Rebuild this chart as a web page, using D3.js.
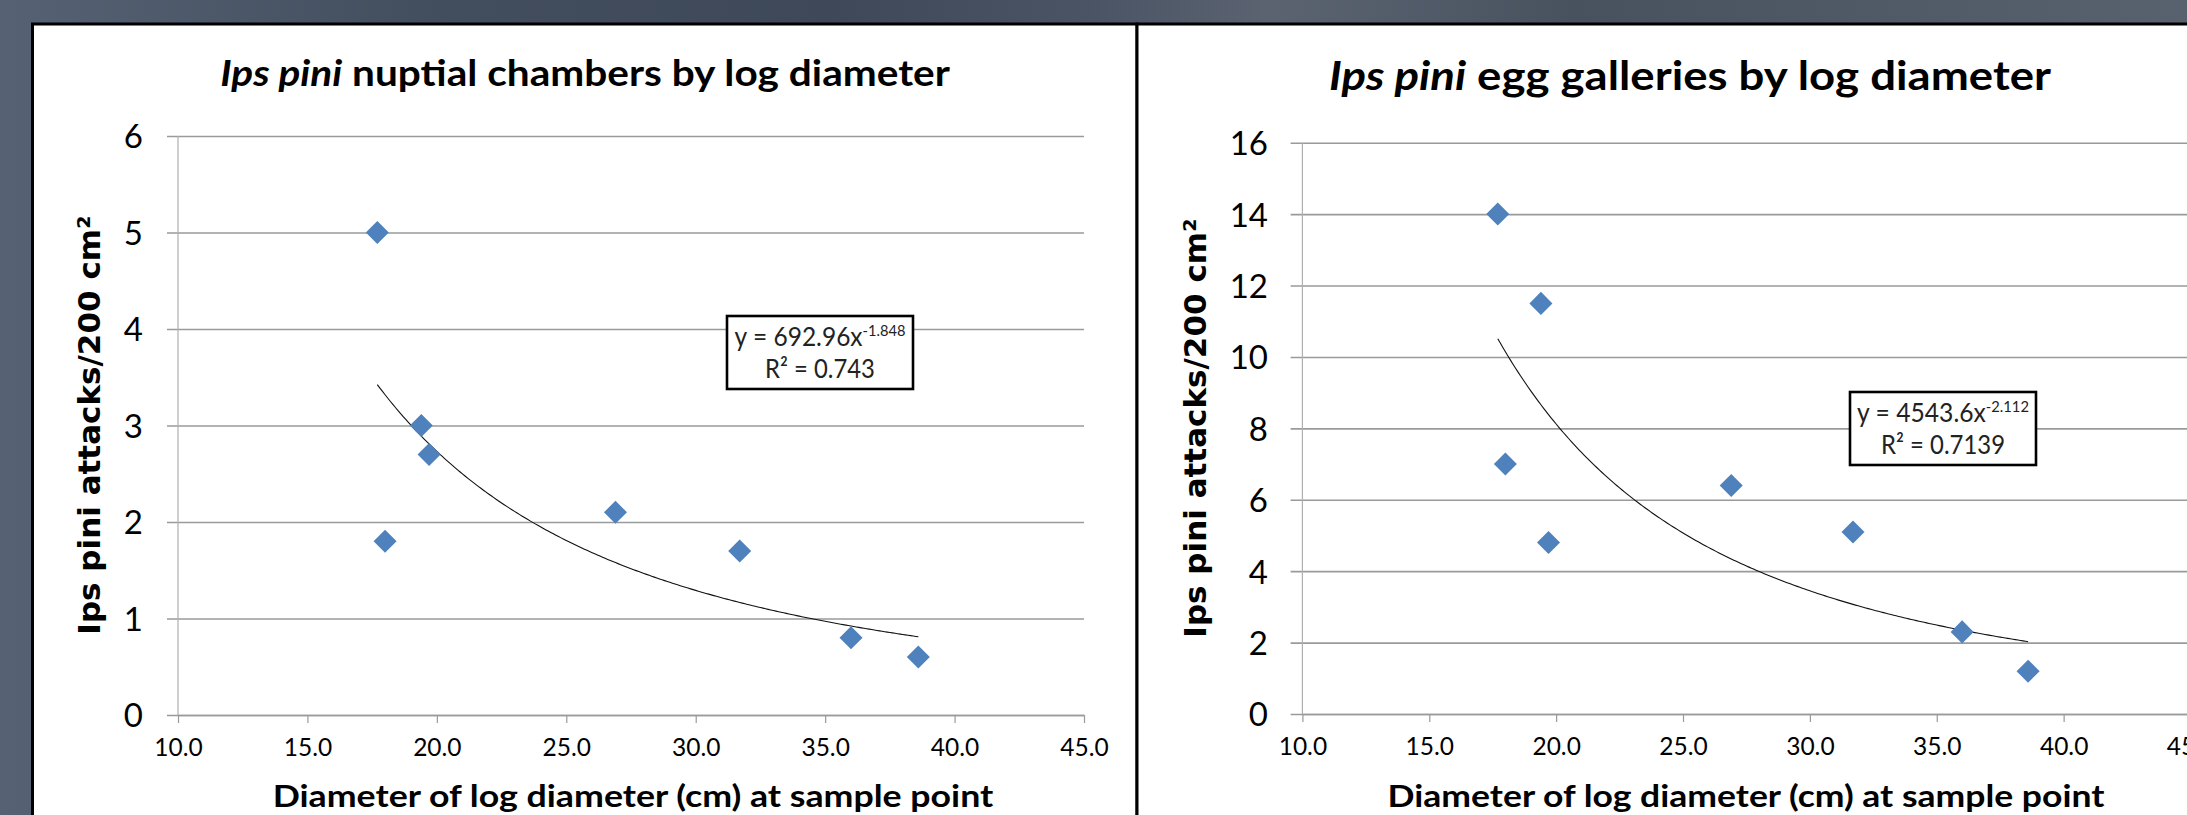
<!DOCTYPE html>
<html>
<head>
<meta charset="utf-8">
<script src="https://cdn.jsdelivr.net/npm/d3@7"></script>
<style>
  body { margin: 0; background: #4a5566; }
  svg { display: block; }
  .tick text { fill: #000; }
</style>
</head>
<body>
<div id="chart"></div>
<script>
// log diameter (cm) at each sample point, shared by both charts
var diameter = [17.7, 18.0, 19.4, 19.7, 26.9, 31.7, 36.0, 38.6];
// Ips pini attacks / 200 cm2
var nuptialChambers = [5.0, 1.8, 3.0, 2.7, 2.1, 1.7, 0.8, 0.6];
var eggGalleries = [14.0, 7.0, 11.5, 4.8, 6.4, 5.1, 2.3, 1.2];

// power trendlines  y = a * x^b
var nuptialFit = { a: 692.96, b: -1.848, eq: "692.96x", exp: "-1.848", r2: "0.743" };
var eggFit = { a: 4543.6, b: -2.112, eq: "4543.6x", exp: "-2.112", r2: "0.7139" };

var xTicks = [10, 15, 20, 25, 30, 35, 40, 45];
var nuptialTicks = [0, 1, 2, 3, 4, 5, 6];
var eggTicks = [0, 2, 4, 6, 8, 10, 12, 14, 16];

var W = 2187, H = 815;
var blue = "#4f81bd";

var svg = d3.select("#chart").append("svg")
    .attr("width", W)
    .attr("height", H);

// slide background
var defs = svg.append("defs");
var grad = defs.append("linearGradient").attr("id", "bg")
    .attr("x1", 0).attr("x2", 1).attr("y1", 0).attr("y2", 0);
[[0, "#566273"], [0.2, "#424d5e"], [0.38, "#3e4858"], [0.5, "#4b5465"],
 [0.58, "#5b6371"], [0.72, "#48525f"], [1, "#58626f"]].forEach(function(s) {
  grad.append("stop").attr("offset", s[0]).attr("stop-color", s[1]);
});
svg.append("rect").attr("width", W).attr("height", H).attr("fill", "url(#bg)");

// the two white panels
svg.append("rect")
    .attr("x", 32.5).attr("y", 24)
    .attr("width", 1104.5).attr("height", 900)
    .attr("fill", "#fff").attr("stroke", "#000").attr("stroke-width", 3);
svg.append("rect")
    .attr("x", 1137).attr("y", 24)
    .attr("width", 1200).attr("height", 900)
    .attr("fill", "#fff").attr("stroke", "#000").attr("stroke-width", 3);

// squeeze / stretch text horizontally so it covers the given width
function fitWidth(t, cx, y, target) {
  var w = t.node().getComputedTextLength();
  t.attr("transform", "translate(" + cx + "," + y + ") scale(" + (target / w) + ",1)");
}

function drawChart(opt) {
  var x = d3.scaleLinear().domain([10, 45]).range(opt.xRange);
  var y = d3.scaleLinear().domain([0, opt.yMax]).range(opt.yRange);
  var g = svg.append("g");

  // horizontal gridlines + y labels
  var yAxis = d3.axisLeft(y)
      .tickValues(opt.yTicks)
      .tickFormat(d3.format("d"))
      .tickSizeInner(-(opt.xRange[1] - opt.gridLeft))
      .tickSizeOuter(0)
      .tickPadding(opt.gridLeft - opt.yLabelRight);
  var ya = g.append("g")
      .attr("transform", "translate(" + opt.gridLeft + ",0)")
      .call(yAxis);
  ya.select(".domain").remove();
  ya.selectAll(".tick line").attr("stroke", "#9a9a9a").attr("stroke-width", 1.6);
  ya.selectAll(".tick text")
      .attr("font-family", "Lato, 'Open Sans', sans-serif")
      .attr("font-size", 33)
      .attr("dy", "0.36em");

  // vertical axis line
  g.append("line")
      .attr("x1", opt.xRange[0]).attr("x2", opt.xRange[0])
      .attr("y1", opt.yRange[1]).attr("y2", opt.yRange[0])
      .attr("stroke", "#b0b0b0").attr("stroke-width", 1.2);

  // x axis
  var xAxis = d3.axisBottom(x)
      .tickValues(xTicks)
      .tickFormat(d3.format(".1f"))
      .tickSizeInner(8)
      .tickSizeOuter(0)
      .tickPadding(16);
  var xa = g.append("g")
      .attr("transform", "translate(0," + opt.yRange[0] + ")")
      .call(xAxis);
  xa.select(".domain").attr("stroke", "#9a9a9a").attr("stroke-width", 1.6);
  xa.selectAll(".tick line").attr("stroke", "#9a9a9a").attr("stroke-width", 1.2);
  xa.selectAll(".tick text")
      .attr("font-family", "Lato, 'Open Sans', sans-serif")
      .attr("font-size", 24.5);

  // trendline
  var xs = d3.range(d3.min(diameter), d3.max(diameter) + 0.01, 0.1);
  var line = d3.line()
      .x(function(d) { return x(d); })
      .y(function(d) { return y(opt.fit.a * Math.pow(d, opt.fit.b)); });
  g.append("path")
      .datum(xs)
      .attr("d", line)
      .attr("fill", "none")
      .attr("stroke", "#111")
      .attr("stroke-width", 1.1);

  // diamonds
  var sym = d3.symbol().type(d3.symbolSquare).size(265);
  g.selectAll("path.pt")
      .data(diameter.map(function(d, i) { return [d, opt.values[i]]; }))
      .enter().append("path")
      .attr("class", "pt")
      .attr("d", sym)
      .attr("fill", blue)
      .attr("transform", function(d) {
        return "translate(" + x(d[0]) + "," + y(d[1]) + ") rotate(45)";
      });

  // equation box
  var bx = opt.box;
  var eb = g.append("g").attr("transform", "translate(" + bx[0] + "," + bx[1] + ")");
  eb.append("rect")
      .attr("width", 186).attr("height", 73)
      .attr("fill", "#fff").attr("stroke", "#000").attr("stroke-width", 2.6);
  var t1 = eb.append("text")
      .attr("text-anchor", "middle")
      .attr("font-family", "Lato, 'Open Sans', sans-serif")
      .attr("font-size", 26)
      .attr("fill", "#222");
  t1.append("tspan").text("y = " + opt.fit.eq);
  t1.append("tspan").attr("dy", -10).attr("font-size", 15.5).text(opt.fit.exp);
  fitWidth(t1, 93, 30, opt.eqW);
  var t2 = eb.append("text")
      .attr("text-anchor", "middle")
      .attr("font-family", "Lato, 'Open Sans', sans-serif")
      .attr("font-size", 26)
      .attr("fill", "#222")
      .text("R\u00b2 = " + opt.fit.r2);
  fitWidth(t2, 93, 62, opt.r2W);

  // chart title
  var tt = g.append("text")
      .attr("text-anchor", "middle")
      .attr("font-family", "Lato, 'Open Sans', sans-serif")
      .attr("font-weight", "bold")
      .attr("font-size", opt.titleSize);
  tt.append("tspan").attr("font-style", "italic").text("Ips pini");
  tt.append("tspan").text(" " + opt.title);
  fitWidth(tt, opt.titleX, opt.titleY, opt.titleW);

  // x axis title
  var xt = g.append("text")
      .attr("text-anchor", "middle")
      .attr("font-family", "Lato, 'Open Sans', sans-serif")
      .attr("font-weight", "bold")
      .attr("font-size", 31)
      .text("Diameter of log diameter (cm) at sample point");
  fitWidth(xt, opt.xTitleX, 807, opt.xTitleW);

  // y axis title
  g.append("text")
      .attr("transform", "translate(" + opt.yTitleX + "," + opt.yTitleY + ") rotate(-90)")
      .attr("text-anchor", "middle")
      .attr("font-family", "'DejaVu Sans', Verdana, sans-serif")
      .attr("font-weight", "bold")
      .attr("font-size", 31)
      .text("Ips pini attacks/200 cm\u00b2");
}

drawChart({
  xRange: [178, 1084], yRange: [715, 136], yMax: 6,
  yTicks: nuptialTicks, gridLeft: 167, yLabelRight: 143,
  values: nuptialChambers, fit: nuptialFit, box: [727, 316],
  eqW: 171, r2W: 110,
  title: "nuptial chambers by log diameter", titleSize: 36,
  titleX: 585, titleY: 86, titleW: 730,
  xTitleX: 633, xTitleW: 721,
  yTitleX: 100, yTitleY: 425
});

drawChart({
  xRange: [1302.4, 2190.5], yRange: [714, 142.7], yMax: 16,
  yTicks: eggTicks, gridLeft: 1290.6, yLabelRight: 1268,
  values: eggGalleries, fit: eggFit, box: [1850, 392],
  eqW: 172, r2W: 124,
  title: "egg galleries by log diameter", titleSize: 40,
  titleX: 1690, titleY: 90, titleW: 722,
  xTitleX: 1746, xTitleW: 717,
  yTitleX: 1206, yTitleY: 428
});
</script>
</body>
</html>
